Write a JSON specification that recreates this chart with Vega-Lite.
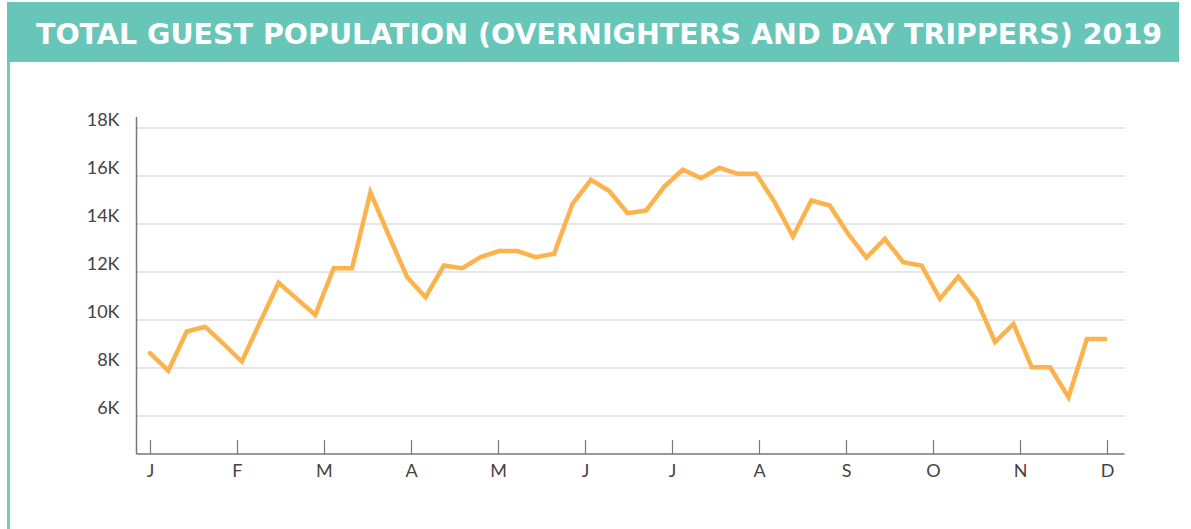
{
  "$schema": "https://vega.github.io/schema/vega-lite/v6.json",
  "background": "white",
  "padding": {"left": 7, "top": 2, "right": 0, "bottom": 0},
  "spacing": 0,
  "config": {"view": {"stroke": null}, "font": "Lato"},
  "vconcat": [
    {
      "width": 1172,
      "height": 60,
      "view": {"fill": "#67c6b8", "stroke": null},
      "data": {"values": [{"title": "TOTAL GUEST POPULATION (OVERNIGHTERS AND DAY TRIPPERS) 2019"}]},
      "mark": {"type": "text", "font": "DejaVu Sans", "fontWeight": "bold", "fontSize": 28.5, "color": "white", "baseline": "middle", "dx": 6, "dy": 3},
      "encoding": {"text": {"field": "title"}}
    },
    {
      "spacing": 76,
      "center": true,
      "hconcat": [
        {
          "width": 3,
          "height": 473,
          "view": {"fill": "#72cbbf", "stroke": null},
          "data": {"values": [{}]},
          "mark": {"type": "rect", "color": "#72cbbf"},
          "encoding": {}
        },
        {
          "width": 988,
          "height": 337,
          "data": {"values": [
            {"week": 0, "guests": 8600}, {"week": 1, "guests": 7870}, {"week": 2, "guests": 9500}, {"week": 3, "guests": 9700},
            {"week": 4, "guests": 8980}, {"week": 5, "guests": 8250}, {"week": 6, "guests": 9900}, {"week": 7, "guests": 11530},
            {"week": 8, "guests": 10860}, {"week": 9, "guests": 10190}, {"week": 10, "guests": 12140}, {"week": 11, "guests": 12140},
            {"week": 12, "guests": 15300}, {"week": 13, "guests": 13500}, {"week": 14, "guests": 11760}, {"week": 15, "guests": 10930},
            {"week": 16, "guests": 12250}, {"week": 17, "guests": 12140}, {"week": 18, "guests": 12600}, {"week": 19, "guests": 12850},
            {"week": 20, "guests": 12850}, {"week": 21, "guests": 12600}, {"week": 22, "guests": 12740}, {"week": 23, "guests": 14820},
            {"week": 24, "guests": 15820}, {"week": 25, "guests": 15350}, {"week": 26, "guests": 14430}, {"week": 27, "guests": 14540},
            {"week": 28, "guests": 15540}, {"week": 29, "guests": 16240}, {"week": 30, "guests": 15890}, {"week": 31, "guests": 16320},
            {"week": 32, "guests": 16070}, {"week": 33, "guests": 16070}, {"week": 34, "guests": 14890}, {"week": 35, "guests": 13460},
            {"week": 36, "guests": 14960}, {"week": 37, "guests": 14750}, {"week": 38, "guests": 13570}, {"week": 39, "guests": 12580},
            {"week": 40, "guests": 13360}, {"week": 41, "guests": 12390}, {"week": 42, "guests": 12250}, {"week": 43, "guests": 10860},
            {"week": 44, "guests": 11790}, {"week": 45, "guests": 10820}, {"week": 46, "guests": 9060}, {"week": 47, "guests": 9820},
            {"week": 48, "guests": 8010}, {"week": 49, "guests": 8010}, {"week": 50, "guests": 6760}, {"week": 51, "guests": 9190},
            {"week": 52, "guests": 9190}
          ]},
          "mark": {"type": "line", "color": "#fdb34d", "strokeWidth": 4.5, "strokeJoin": "miter", "strokeCap": "round"},
          "encoding": {
            "x": {
              "field": "week",
              "type": "quantitative",
              "scale": {"domain": [-0.76, 53.02], "nice": false, "zero": false},
              "axis": {
                "values": [0, 4.736, 9.472, 14.208, 18.944, 23.68, 28.416, 33.152, 37.888, 42.624, 47.36, 52.096],
                "labelExpr": "['J','F','M','A','M','J','J','A','S','O','N','D'][round(datum.value/4.736)]",
                "grid": false,
                "title": null,
                "domainColor": "#777777",
                "domainWidth": 1.5,
                "tickColor": "#777777",
                "tickWidth": 1.2,
                "tickSize": -14,
                "labelPadding": 23,
                "labelFontSize": 18,
                "labelColor": "#444444",
                "labelFont": "Lato",
                "labelFontWeight": 400,
                "labelBaseline": "top",
                "labelFlush": false,
                "labelOverlap": false
              }
            },
            "y": {
              "field": "guests",
              "type": "quantitative",
              "scale": {"domain": [4417, 18458], "nice": false, "zero": false},
              "axis": {
                "values": [6000, 8000, 10000, 12000, 14000, 16000, 18000],
                "labelExpr": "datum.value/1000 + 'K'",
                "grid": true,
                "gridColor": "#dedede",
                "gridWidth": 1.5,
                "ticks": false,
                "title": null,
                "domainColor": "#777777",
                "domainWidth": 1.5,
                "labelPadding": 17,
                "labelFontSize": 18,
                "labelColor": "#444444",
                "labelFont": "Lato",
                "labelFontWeight": 400,
                "labelBaseline": "alphabetic",
                "labelOffset": -2,
                "labelFlush": false,
                "labelOverlap": false
              }
            }
          }
        }
      ]
    }
  ]
}
